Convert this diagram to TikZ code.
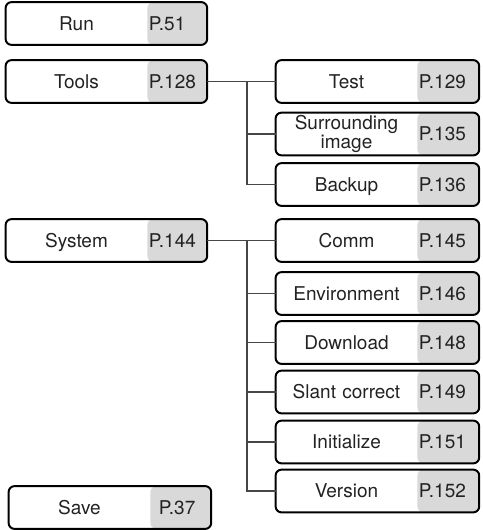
\documentclass[tikz,border=0pt]{standalone}
\usepackage{fontspec}
\setmainfont{TeX Gyre Heros}
\usetikzlibrary{positioning, backgrounds}
\definecolor{pagegray}{RGB}{217, 217, 217}
\definecolor{textgray}{RGB}{34, 34, 34}
\definecolor{linegray}{RGB}{70, 70, 70}

\begin{document}
\begin{tikzpicture}[
    x=0.5pt, y=-0.5pt,
    item/.style={rectangle, inner sep=0pt, minimum width=70.5pt, text width=70.5pt, minimum height=21pt, align=center, text height=6.8pt, text depth=0pt, text=textgray, font=\fontsize{9.5}{10.5}\selectfont},
    page/.style={rectangle, inner xsep=0.5pt, inner ysep=0pt, text width=#1, minimum height=21pt, align=left, text height=6.8pt, text depth=0pt, text=textgray, font=\fontsize{9.5}{10.5}\selectfont},
    page/.default=28.5pt,
    frame/.style={draw=black, line width=1pt, rounded corners=3pt, path picture={\fill[pagegray] (#1.north west) rectangle (#1.south east);}},
    link/.style={draw=linegray, line width=0.65pt}
]

\useasboundingbox (0,0) rectangle (482,530);

% Run
\node[item] (run) at (76.5,23.5) {Run};
\node[page, right=0pt of run] (runp) {P.51};

% Tools
\node[item] (tools) at (76.5,81.5) {Tools};
\node[page, right=0pt of tools] (toolsp) {P.128};

% System
\node[item] (system) at (76.5,240.5) {System};
\node[page, right=0pt of system] (systemp) {P.144};

% Save
\node[item] (save) at (79.5,507.5) {Save};
\node[page=22pt, inner xsep=4pt, right=0pt of save] (savep) {P.37};

% Tools entries
\node[item] (test) at (346.5,81.5) {Test};
\node[page=29.5pt, right=0pt of test] (testp) {P.129};

\node[item, text height=, text depth=, font=\fontsize{9.5}{8.5}\selectfont] (surr) at (346.5,134) {Surrounding\\image};
\node[page=29.5pt, right=0pt of surr] (surrp) {P.135};

\node[item] (backup) at (346.5,184.5) {Backup};
\node[page=29.5pt, right=0pt of backup] (backupp) {P.136};

% System entries
\node[item] (comm) at (346.5,240.5) {Comm};
\node[page=29.5pt, right=0pt of comm] (commp) {P.145};

\node[item] (env) at (346.5,293.5) {Environment};
\node[page=29.5pt, right=0pt of env] (envp) {P.146};

\node[item] (download) at (346.5,342.5) {Download};
\node[page=29.5pt, right=0pt of download] (downloadp) {P.148};

\node[item] (slant) at (346.5,392) {Slant correct};
\node[page=29.5pt, right=0pt of slant] (slantp) {P.149};

\node[item] (init) at (346.5,442) {Initialize};
\node[page=29.5pt, right=0pt of init] (initp) {P.151};

\node[item] (version) at (346.5,491) {Version};
\node[page=29.5pt, right=0pt of version] (versionp) {P.152};

% box frames
\begin{scope}[on background layer]
\draw[frame=runp] (run.north west) rectangle (runp.south east);
\draw[frame=toolsp] (tools.north west) rectangle (toolsp.south east);
\draw[frame=systemp] (system.north west) rectangle (systemp.south east);
\draw[frame=savep] (save.north west) rectangle (savep.south east);
\draw[frame=testp] (test.north west) rectangle (testp.south east);
\draw[frame=surrp] (surr.north west) rectangle (surrp.south east);
\draw[frame=backupp] (backup.north west) rectangle (backupp.south east);
\draw[frame=commp] (comm.north west) rectangle (commp.south east);
\draw[frame=envp] (env.north west) rectangle (envp.south east);
\draw[frame=downloadp] (download.north west) rectangle (downloadp.south east);
\draw[frame=slantp] (slant.north west) rectangle (slantp.south east);
\draw[frame=initp] (init.north west) rectangle (initp.south east);
\draw[frame=versionp] (version.north west) rectangle (versionp.south east);
\end{scope}

% Connecting lines
\coordinate (toolsbus) at (247,81.5);
\coordinate (sysbus) at (247,240.5);
\draw[link] (toolsp.east) -- (test.west);
\draw[link] (toolsbus) |- (surr.west);
\draw[link] (toolsbus) |- (backup.west);
\draw[link] (systemp.east) -- (comm.west);
\draw[link] (sysbus) |- (env.west);
\draw[link] (sysbus) |- (download.west);
\draw[link] (sysbus) |- (slant.west);
\draw[link] (sysbus) |- (init.west);
\draw[link] (sysbus) |- (version.west);

\end{tikzpicture}
\end{document}
